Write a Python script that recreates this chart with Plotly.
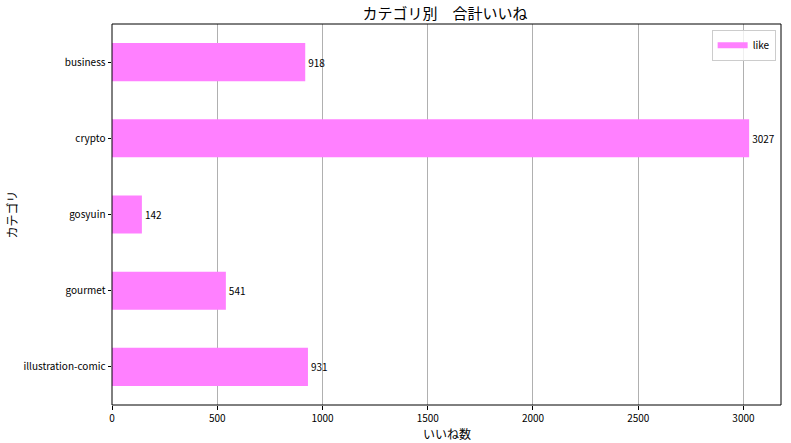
import plotly.graph_objects as go

categories = ["business", "crypto", "gosyuin", "gourmet", "illustration-comic"]
likes = [918, 3027, 142, 541, 931]
x_ticks = [0, 500, 1000, 1500, 2000, 2500, 3000]
series_name = "like"
bar_color = "#ff80ff"

FONT = "Noto Sans CJK JP"

fig = go.Figure()
fig.add_trace(go.Bar(
    y=categories, x=likes, orientation="h", name=series_name,
    marker=dict(color=bar_color, line=dict(width=0)),
    width=0.5,
    text=[str(v) for v in likes], textposition="outside",
    textfont=dict(size=10, color="#000000", family=FONT),
    cliponaxis=False,
    showlegend=False,
))
# legend entry drawn as a wide patch, like the reference
fig.add_trace(go.Scatter(
    x=[None], y=[None], mode="lines", name=series_name,
    line=dict(color=bar_color, width=6), showlegend=True, hoverinfo="skip",
))

fig.update_layout(
    width=791, height=443,
    margin=dict(l=112, r=10, t=24, b=38, autoexpand=False),
    paper_bgcolor="white", plot_bgcolor="white",
    font=dict(family=FONT, size=10, color="#000000"),
    title=dict(text="カテゴリ別　合計いいね", x=0.5626, xanchor="center",
               y=1 - 14 / 443, yanchor="middle", font=dict(size=15, family=FONT)),
    showlegend=True,
    legend=dict(x=0.992, y=0.985, xanchor="right", yanchor="top",
                bordercolor="#cccccc", borderwidth=1, bgcolor="rgba(255,255,255,0.8)",
                font=dict(size=10, family=FONT), tracegroupgap=0),
    shapes=[dict(type="rect", xref="paper", yref="paper", x0=0, x1=1, y0=0, y1=1,
                 line=dict(color="#000000", width=1), fillcolor="rgba(0,0,0,0)",
                 layer="above")],
    annotations=[
        dict(text="いいね数", xref="paper", yref="paper", x=0.5, y=-0.074,
             xanchor="center", yanchor="middle", showarrow=False,
             font=dict(size=12, family=FONT)),
        dict(text="カテゴリ", xref="paper", yref="paper", x=-0.1495, y=0.5,
             xanchor="center", yanchor="middle", showarrow=False, textangle=-90,
             font=dict(size=12, family=FONT)),
    ],
)
fig.update_xaxes(
    range=[0, 3178.35], tickvals=x_ticks, ticktext=[str(t) for t in x_ticks],
    showgrid=True, gridcolor="#b0b0b0", gridwidth=1,
    showline=False,
    ticks="outside", ticklen=3.5, tickcolor="#000000",
    automargin=False, zeroline=False,
)
fig.update_yaxes(
    categoryorder="array", categoryarray=categories[::-1],
    range=[-0.5, 4.5],
    showgrid=False, showline=False,
    ticks="outside", ticklen=3.5, tickcolor="#000000",
    automargin=False,
)

fig.write_html("out.html", config={"displayModeBar": False},
               post_script="document.body.style.margin='0';document.body.style.overflow='hidden';")
